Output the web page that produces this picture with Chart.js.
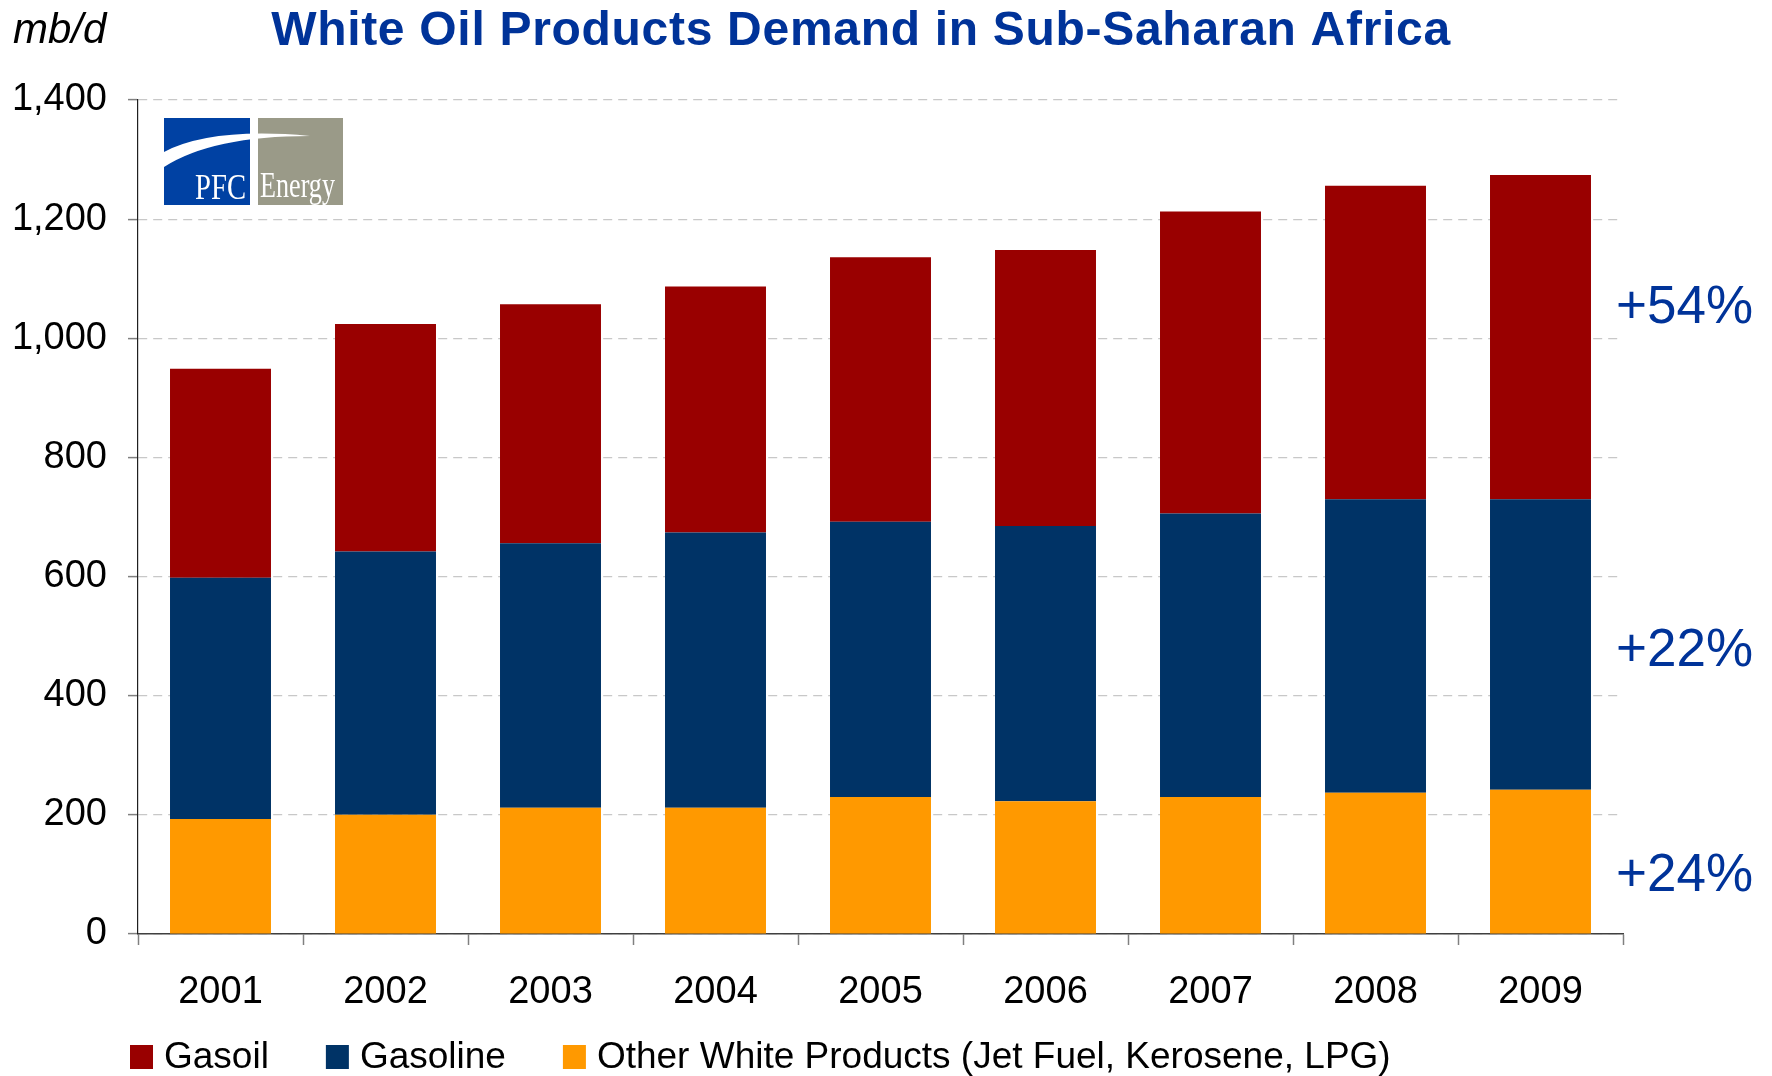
<!DOCTYPE html>
<html>
<head>
<meta charset="utf-8">
<script src="https://cdn.jsdelivr.net/npm/chart.js@4.4.0/dist/chart.umd.min.js"></script>
<style>
  html, body { margin: 0; padding: 0; background: #ffffff; }
  canvas { display: block; }
</style>
</head>
<body>
<canvas id="demandChart" width="1772" height="1076"></canvas>
<script>
// values, mb/d
const years = ['2001', '2002', '2003', '2004', '2005', '2006', '2007', '2008', '2009'];
const otherWhite = [193, 200, 212, 212, 230, 223, 230, 237, 242];
const gasoline = [405, 442, 444, 462, 462, 462, 476, 493, 488];
const gasoil = [351, 382, 401, 413, 444, 463, 507, 526, 544];
const yTicks = [0, 200, 400, 600, 800, 1000, 1200, 1400];
const growthLabels = ['+54%', '+22%', '+24%'];

const FONT = '"Liberation Sans", Arial, sans-serif';
const BLUE_TEXT = '#003399';

function drawLogo(ctx) {
    ctx.save();
    ctx.fillStyle = '#0041a3';
    ctx.fillRect(164, 118, 86, 87);
    ctx.fillStyle = '#9a9a88';
    ctx.fillRect(258, 118, 85, 87);
    // white swoosh
    ctx.fillStyle = '#ffffff';
    ctx.beginPath();
    ctx.moveTo(164, 152);
    ctx.quadraticCurveTo(212, 127, 310, 136);
    ctx.quadraticCurveTo(212, 136, 164, 167);
    ctx.closePath();
    ctx.fill();
    ctx.font = '36px "Liberation Serif", "Times New Roman", serif';
    ctx.textBaseline = 'alphabetic';
    ctx.textAlign = 'left';
    ctx.fillText('PFC', 195, 199, 51);
    ctx.fillText('Energy', 260, 197, 75);
    ctx.restore();
}

const decorations = {
    id: 'decorations',
    afterDraw(chart) {
        const ctx = chart.ctx;
        const y = chart.scales.y;
        ctx.save();

        // unit label
        ctx.fillStyle = '#000000';
        ctx.font = 'italic 42px ' + FONT;
        ctx.textAlign = 'left';
        ctx.textBaseline = 'alphabetic';
        ctx.fillText('mb/d', 13, 43);

        // title
        ctx.fillStyle = BLUE_TEXT;
        ctx.font = 'bold 48px ' + FONT;
        ctx.letterSpacing = '0.7px';
        ctx.textAlign = 'center';
        ctx.fillText('White Oil Products Demand in Sub-Saharan Africa', 861, 45);
        ctx.letterSpacing = '0px';

        drawLogo(ctx);

        // growth labels to the right of the last bar
        const anchors = [1026, 450, 72];
        ctx.fillStyle = BLUE_TEXT;
        ctx.font = '53px ' + FONT;
        ctx.textAlign = 'left';
        growthLabels.forEach((txt, i) => {
            ctx.fillText(txt, 1616, y.getPixelForValue(anchors[i]));
        });

        // legend
        ctx.font = '37px ' + FONT;
        ctx.textBaseline = 'middle';
        let x = 130;
        const cy = 1057;
        chart.data.datasets.slice().reverse().forEach(ds => {
            ctx.fillStyle = ds.backgroundColor;
            ctx.fillRect(x, cy - 12, 23, 24);
            x += 23 + 11;
            ctx.fillStyle = '#000000';
            ctx.fillText(ds.label, x, cy + 1);
            x += ctx.measureText(ds.label).width + 57;
        });

        ctx.restore();
    }
};

new Chart(document.getElementById('demandChart'), {
    type: 'bar',
    data: {
        labels: years,
        datasets: [
            { label: 'Other White Products (Jet Fuel, Kerosene, LPG)', data: otherWhite, backgroundColor: '#ff9900' },
            { label: 'Gasoline', data: gasoline, backgroundColor: '#003366' },
            { label: 'Gasoil', data: gasoil, backgroundColor: '#990000' }
        ]
    },
    options: {
        responsive: false,
        animation: false,
        devicePixelRatio: 1,
        layout: { padding: { top: 100, right: 149, bottom: 0, left: 0 } },
        datasets: {
            bar: { categoryPercentage: 1, barPercentage: 0.612, borderWidth: 0 }
        },
        plugins: {
            legend: { display: false },
            title: { display: false },
            tooltip: { enabled: false }
        },
        scales: {
            x: {
                stacked: true,
                grid: {
                    display: true,
                    drawOnChartArea: false,
                    drawTicks: true,
                    tickLength: 11,
                    tickColor: '#808080',
                    tickWidth: 1.5,
                    offset: true
                },
                border: { display: true, color: '#404040', width: 1.5 },
                ticks: {
                    color: '#000000',
                    font: { family: FONT, size: 38 },
                    padding: 25,
                    maxRotation: 0
                },
                afterFit(scale) { scale.height = 142; }
            },
            y: {
                stacked: true,
                min: 0,
                max: 1400,
                afterBuildTicks(scale) {
                    scale.ticks = yTicks.map(v => ({ value: v }));
                },
                grid: {
                    color: '#c8c8c8',
                    lineWidth: 1.2,
                    drawTicks: true,
                    tickLength: 10,
                    tickColor: '#808080',
                    tickWidth: 1.5,
                    tickBorderDash: []
                },
                border: { display: true, color: '#202020', width: 1.2, dash: [9, 6] },
                ticks: {
                    color: '#000000',
                    font: { family: FONT, size: 38 },
                    padding: 21,
                    callback: v => v.toLocaleString('en-US')
                },
                afterFit(scale) { scale.width = 138; }
            }
        }
    },
    plugins: [decorations]
});
</script>
</body>
</html>
